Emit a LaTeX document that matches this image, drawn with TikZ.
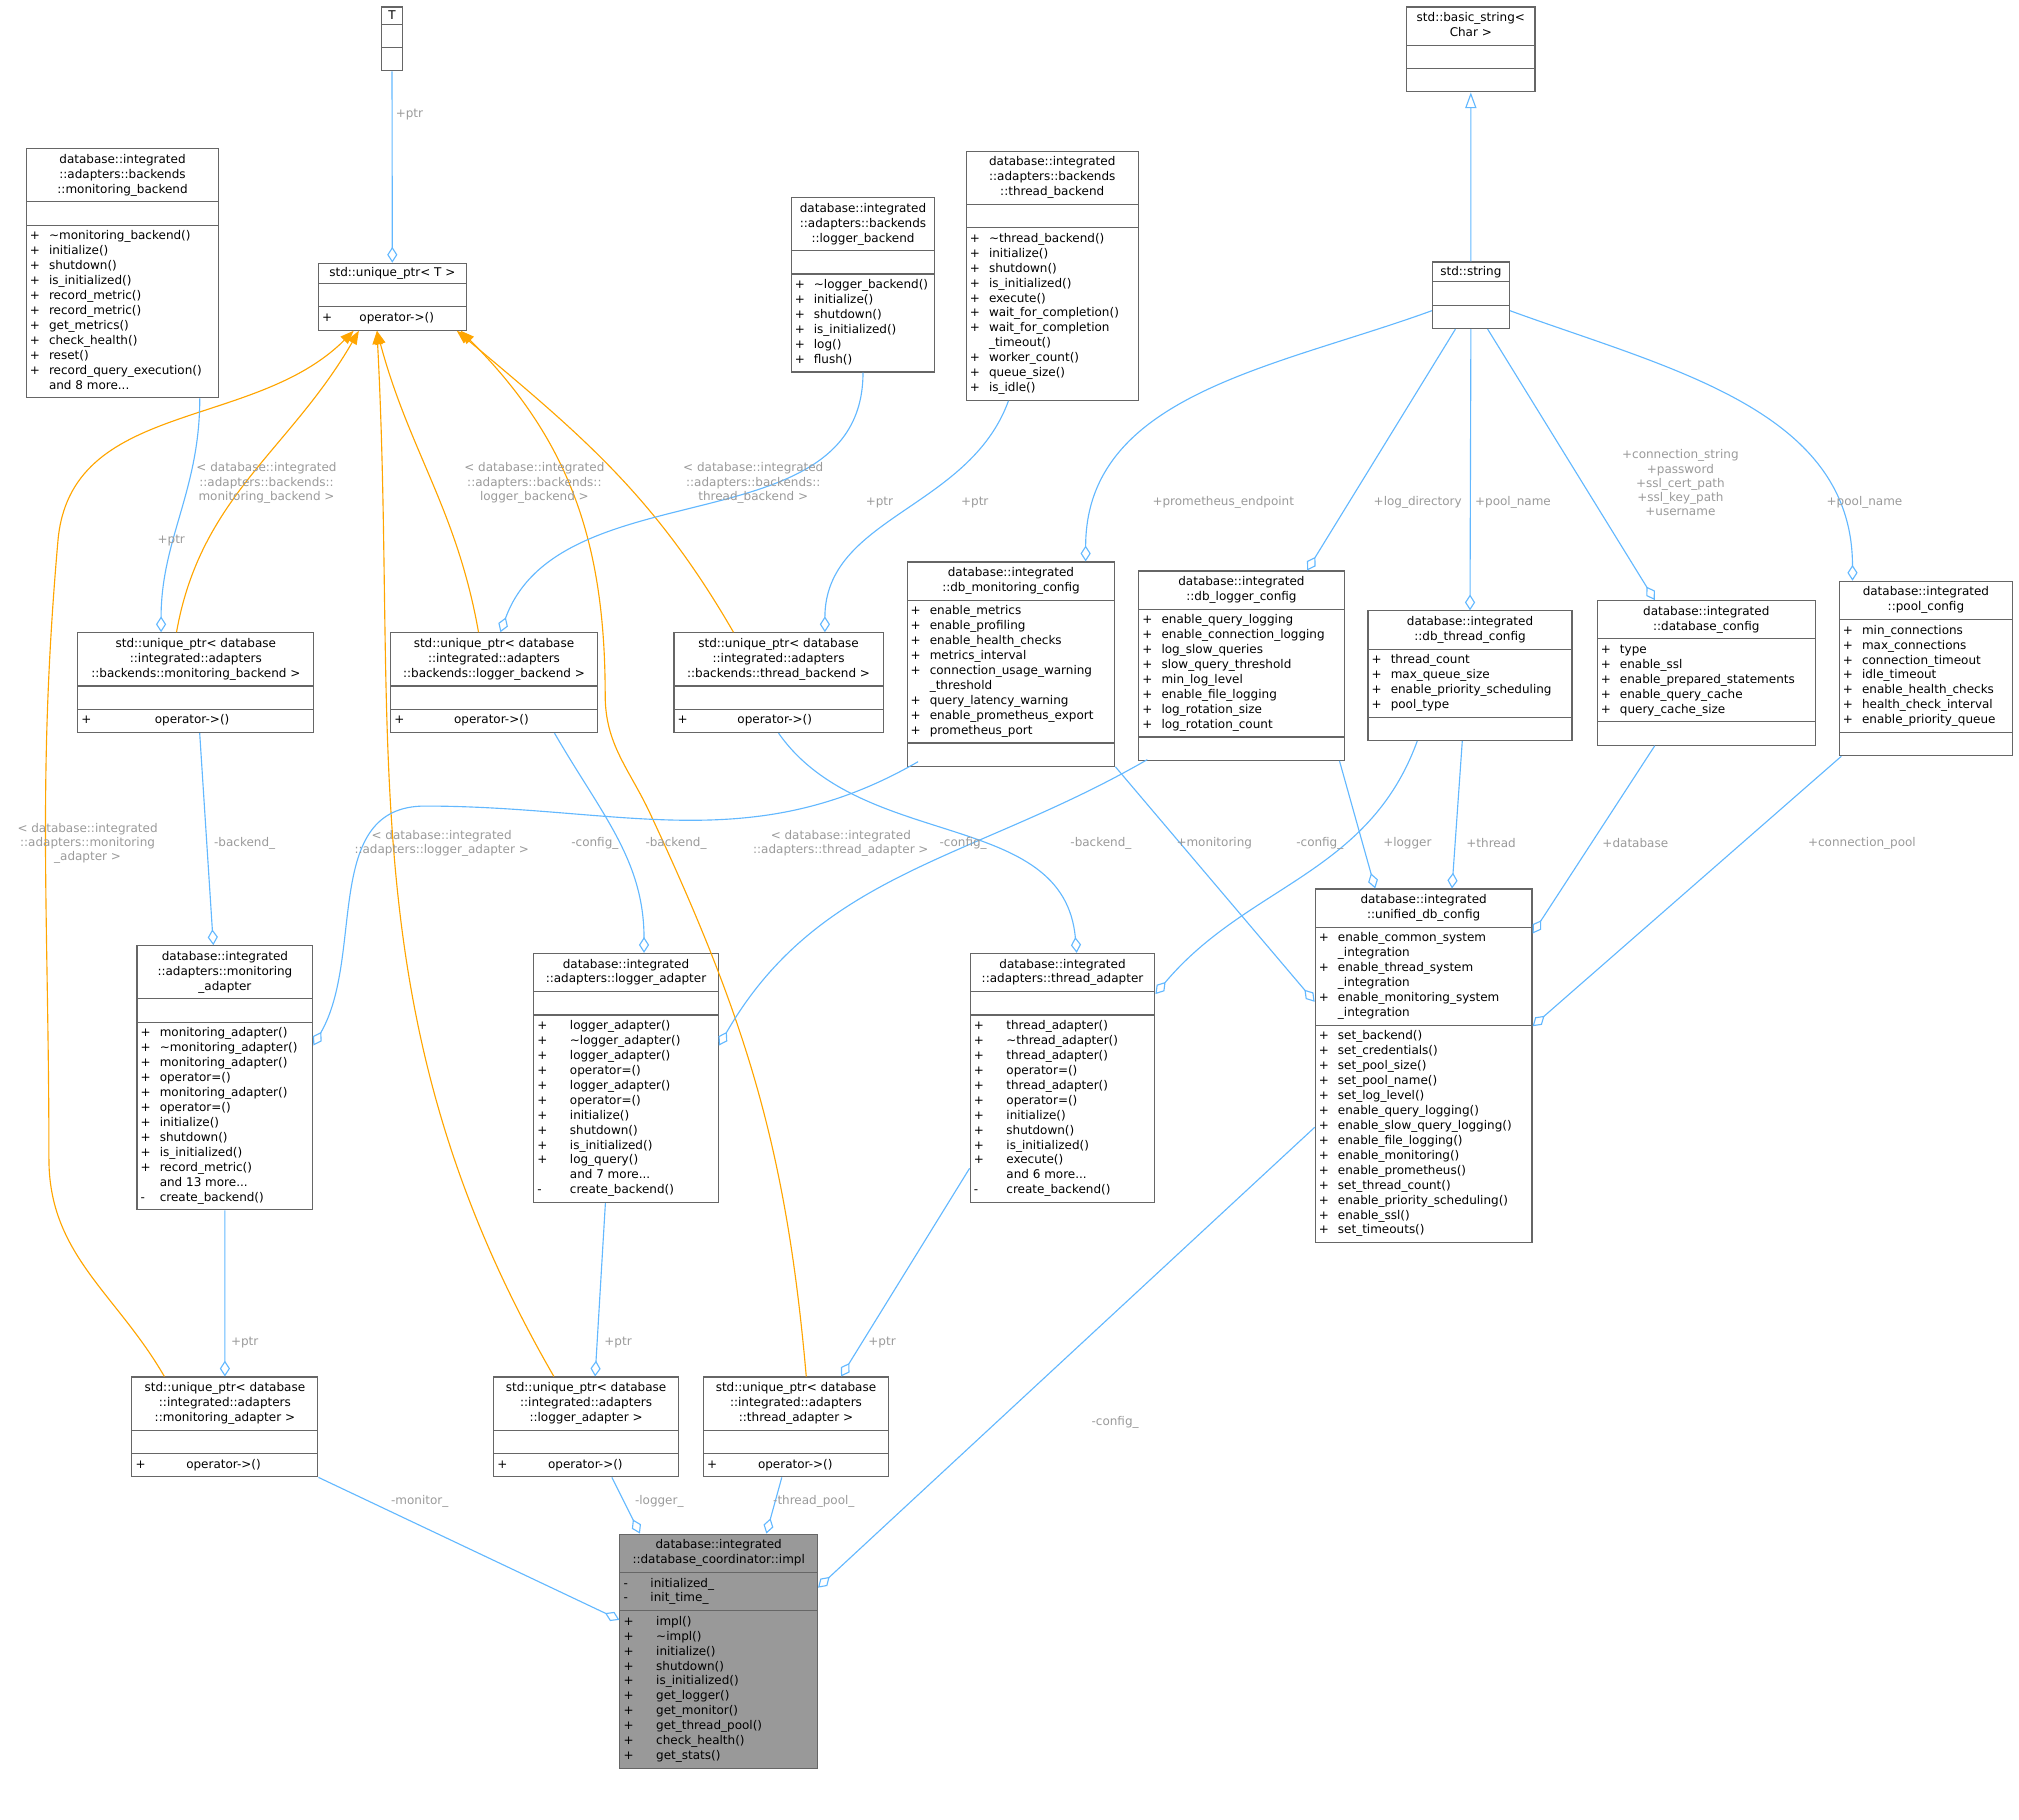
\documentclass[tikz,border=0pt]{standalone}
\usepackage{fontspec}
\setmainfont{DejaVu Sans}
\usetikzlibrary{shapes.multipart,arrows.meta,calc,positioning}

\definecolor{edgeblue}{HTML}{63B8FF}
\definecolor{edgeorange}{HTML}{FFA500}
\definecolor{boxline}{HTML}{666666}
\definecolor{lblgray}{HTML}{9A9A9A}

\newcommand\ttl[1]{\begin{tabular}{@{}c@{}}#1\end{tabular}}
\newcommand\mlist[1]{\begin{tabular}{@{}l@{\hspace{4pt}}l@{}}#1\end{tabular}}
\newcommand\tl{\textasciitilde}

\tikzset{
  cls/.style={rectangle split, rectangle split parts=3, draw=boxline, line width=0.5pt,
    rectangle split part align={center,left,left}, inner sep=1.6pt, anchor=north west,
    font=\fontsize{5.3}{6.6}\selectfont},
  w/.style={minimum width=#1*0.567pt},
  agg/.style={draw=edgeblue, line width=0.5pt, -{Diamond[open,length=7pt,width=4.5pt]}},
  tpl/.style={draw=edgeorange, line width=0.5pt, -{Triangle[length=6pt,width=4.5pt]}},
  inh/.style={draw=edgeblue, line width=0.5pt, -{Triangle[open,length=7pt,width=5pt]}},
  lbl/.style={text=lblgray, font=\fontsize{5.3}{6.3}\selectfont, align=center, inner sep=1pt}
}

\begin{document}
\begin{tikzpicture}[x=0.02cm,y=-0.02cm]
\useasboundingbox (0,0) rectangle (1568,1413);

% classes
\node[cls,w=16] (T) at (296,5) {T\nodepart{second}\strut\nodepart{third}\strut};
\node[cls,w=115] (uptrT) at (247,204) {std::unique\_ptr< T >\nodepart{second}\strut
  \nodepart{third}\mlist{+&\hspace{8pt}operator->()}};
\node[cls,w=150] (mb) at (20,115) {\ttl{database::integrated\\::adapters::backends\\::monitoring\_backend}
  \nodepart{second}\strut
  \nodepart{third}\mlist{+&\tl monitoring\_backend()\\+&initialize()\\+&shutdown()\\+&is\_initialized()\\
  +&record\_metric()\\+&record\_metric()\\+&get\_metrics()\\+&check\_health()\\+&reset()\\
  +&record\_query\_execution()\\&and 8 more...}};
\node[cls,w=112] (lb) at (614,153) {\ttl{database::integrated\\::adapters::backends\\::logger\_backend}
  \nodepart{second}\strut
  \nodepart{third}\mlist{+&\tl logger\_backend()\\+&initialize()\\+&shutdown()\\+&is\_initialized()\\+&log()\\+&flush()}};
\node[cls,w=134] (tb) at (750,117) {\ttl{database::integrated\\::adapters::backends\\::thread\_backend}
  \nodepart{second}\strut
  \nodepart{third}\mlist{+&\tl thread\_backend()\\+&initialize()\\+&shutdown()\\+&is\_initialized()\\+&execute()\\
  +&wait\_for\_completion()\\+&wait\_for\_completion\\&\_timeout()\\+&worker\_count()\\+&queue\_size()\\+&is\_idle()}};
\node[cls,w=100] (bstr) at (1092,5) {\ttl{std::basic\_string<\\Char >}\nodepart{second}\strut\nodepart{third}\strut};
\node[cls,w=60] (str) at (1112,203) {std::string\nodepart{second}\strut\nodepart{third}\strut};

\node[cls,w=184] (upmb) at (60,491) {\ttl{std::unique\_ptr< database\\::integrated::adapters\\::backends::monitoring\_backend >}
  \nodepart{second}\strut\nodepart{third}\mlist{+&\hspace{24pt}operator->()}};
\node[cls,w=161] (uplb) at (303,491) {\ttl{std::unique\_ptr< database\\::integrated::adapters\\::backends::logger\_backend >}
  \nodepart{second}\strut\nodepart{third}\mlist{+&\hspace{18pt}operator->()}};
\node[cls,w=163] (uptb) at (523,491) {\ttl{std::unique\_ptr< database\\::integrated::adapters\\::backends::thread\_backend >}
  \nodepart{second}\strut\nodepart{third}\mlist{+&\hspace{18pt}operator->()}};

\node[cls,w=162] (dbmon) at (704,436) {\ttl{database::integrated\\::db\_monitoring\_config}
  \nodepart{second}\mlist{+&enable\_metrics\\+&enable\_profiling\\+&enable\_health\_checks\\+&metrics\_interval\\
  +&connection\_usage\_warning\\&\_threshold\\+&query\_latency\_warning\\+&enable\_prometheus\_export\\+&prometheus\_port}
  \nodepart{third}\strut};
\node[cls,w=160] (dblog) at (884,443) {\ttl{database::integrated\\::db\_logger\_config}
  \nodepart{second}\mlist{+&enable\_query\_logging\\+&enable\_connection\_logging\\+&log\_slow\_queries\\
  +&slow\_query\_threshold\\+&min\_log\_level\\+&enable\_file\_logging\\+&log\_rotation\_size\\+&log\_rotation\_count}
  \nodepart{third}\strut};
\node[cls,w=159] (dbth) at (1062,474) {\ttl{database::integrated\\::db\_thread\_config}
  \nodepart{second}\mlist{+&thread\_count\\+&max\_queue\_size\\+&enable\_priority\_scheduling\\+&pool\_type}
  \nodepart{third}\strut};
\node[cls,w=170] (dbc) at (1240,466) {\ttl{database::integrated\\::database\_config}
  \nodepart{second}\mlist{+&type\\+&enable\_ssl\\+&enable\_prepared\_statements\\+&enable\_query\_cache\\+&query\_cache\_size}
  \nodepart{third}\strut};
\node[cls,w=135] (pool) at (1428,451) {\ttl{database::integrated\\::pool\_config}
  \nodepart{second}\mlist{+&min\_connections\\+&max\_connections\\+&connection\_timeout\\+&idle\_timeout\\
  +&enable\_health\_checks\\+&health\_check\_interval\\+&enable\_priority\_queue}
  \nodepart{third}\strut};

\node[cls,w=137] (ma) at (106,734) {\ttl{database::integrated\\::adapters::monitoring\\\_adapter}
  \nodepart{second}\strut
  \nodepart{third}\mlist{+&monitoring\_adapter()\\+&\tl monitoring\_adapter()\\+&monitoring\_adapter()\\+&operator=()\\
  +&monitoring\_adapter()\\+&operator=()\\+&initialize()\\+&shutdown()\\+&is\_initialized()\\+&record\_metric()\\
  &and 13 more...\\-&create\_backend()}};
\node[cls,w=144] (la) at (414,740) {\ttl{database::integrated\\::adapters::logger\_adapter}
  \nodepart{second}\strut
  \nodepart{third}\mlist{+&\hspace{6pt}logger\_adapter()\\+&\hspace{6pt}\tl logger\_adapter()\\+&\hspace{6pt}logger\_adapter()\\
  +&\hspace{6pt}operator=()\\+&\hspace{6pt}logger\_adapter()\\+&\hspace{6pt}operator=()\\+&\hspace{6pt}initialize()\\
  +&\hspace{6pt}shutdown()\\+&\hspace{6pt}is\_initialized()\\+&\hspace{6pt}log\_query()\\&\hspace{6pt}and 7 more...\\
  -&\hspace{6pt}create\_backend()}};
\node[cls,w=144] (ta) at (753,740) {\ttl{database::integrated\\::adapters::thread\_adapter}
  \nodepart{second}\strut
  \nodepart{third}\mlist{+&\hspace{6pt}thread\_adapter()\\+&\hspace{6pt}\tl thread\_adapter()\\+&\hspace{6pt}thread\_adapter()\\
  +&\hspace{6pt}operator=()\\+&\hspace{6pt}thread\_adapter()\\+&\hspace{6pt}operator=()\\+&\hspace{6pt}initialize()\\
  +&\hspace{6pt}shutdown()\\+&\hspace{6pt}is\_initialized()\\+&\hspace{6pt}execute()\\&\hspace{6pt}and 6 more...\\
  -&\hspace{6pt}create\_backend()}};
\node[cls,w=169] (uni) at (1021,690) {\ttl{database::integrated\\::unified\_db\_config}
  \nodepart{second}\mlist{+&enable\_common\_system\\&\_integration\\+&enable\_thread\_system\\&\_integration\\
  +&enable\_monitoring\_system\\&\_integration}
  \nodepart{third}\mlist{+&set\_backend()\\+&set\_credentials()\\+&set\_pool\_size()\\+&set\_pool\_name()\\
  +&set\_log\_level()\\+&enable\_query\_logging()\\+&enable\_slow\_query\_logging()\\+&enable\_file\_logging()\\
  +&enable\_monitoring()\\+&enable\_prometheus()\\+&set\_thread\_count()\\+&enable\_priority\_scheduling()\\
  +&enable\_ssl()\\+&set\_timeouts()}};

\node[cls,w=145] (upma) at (102,1069) {\ttl{std::unique\_ptr< database\\::integrated::adapters\\::monitoring\_adapter >}
  \nodepart{second}\strut\nodepart{third}\mlist{+&\hspace{14pt}operator->()}};
\node[cls,w=144] (upla) at (383,1069) {\ttl{std::unique\_ptr< database\\::integrated::adapters\\::logger\_adapter >}
  \nodepart{second}\strut\nodepart{third}\mlist{+&\hspace{14pt}operator->()}};
\node[cls,w=144] (upta) at (546,1069) {\ttl{std::unique\_ptr< database\\::integrated::adapters\\::thread\_adapter >}
  \nodepart{second}\strut\nodepart{third}\mlist{+&\hspace{14pt}operator->()}};

\node[cls,w=154,fill=black!40] (impl) at (481,1191) {\ttl{database::integrated\\::database\_coordinator::impl}
  \nodepart{second}\mlist{-&\hspace{6pt}initialized\_\\-&\hspace{6pt}init\_time\_}
  \nodepart{third}\mlist{+&\hspace{6pt}impl()\\+&\hspace{6pt}\tl impl()\\+&\hspace{6pt}initialize()\\+&\hspace{6pt}shutdown()\\
  +&\hspace{6pt}is\_initialized()\\+&\hspace{6pt}get\_logger()\\+&\hspace{6pt}get\_monitor()\\+&\hspace{6pt}get\_thread\_pool()\\
  +&\hspace{6pt}check\_health()\\+&\hspace{6pt}get\_stats()}};

% template instantiations
\draw[tpl] ($(upmb.north)+(-15,0)$) to[out=80,in=-120] ($(uptrT.south)+(-26,0)$);
\draw[tpl] ($(uplb.north)+(-12,0)$) to[out=100,in=-75] ($(uptrT.south)+(-12,0)$);
\draw[tpl] ($(uptb.north)+(-35,0)$) to[out=120,in=-40] ($(uptrT.south)+(50,0)$);
\draw[tpl] ($(upma.north)+(-47,0)$) to[out=120,in=-90] (38,900) to[out=90,in=-95] (45,420)
  to[out=85,in=-135] ($(uptrT.south)+(-30,0)$);
\draw[tpl] ($(upla.north)+(-25,0)$) to[out=120,in=-87] ($(uptrT.south)+(-12,0)$);
\draw[tpl] ($(upta.north)+(8,0)$) to[out=95,in=-65] (505,632) to[out=115,in=-90] (470,540)
  to[out=90,in=-45] ($(uptrT.south)+(53,0)$);

% members
\draw[agg] (T) -- (uptrT);
\draw[agg] ($(mb.south)+(60,0)$) to[out=-90,in=90] ($(upmb.north)+(-27,0)$);
\draw[agg] (lb.south) to[out=-90,in=70] ($(uplb.north)+(5,0)$);
\draw[agg] ($(tb.south)+(-34,0)$) to[out=-110,in=90] ($(uptb.north)+(36,0)$);
\draw[inh] (str) -- (bstr);
\draw[agg] ($(str.west)+(0,12)$) to[out=-160,in=90] ($(dbmon.north)+(58,0)$);
\draw[agg] ($(str.south)+(-12,0)$) -- ($(dblog.north)+(51,0)$);
\draw[agg] (str.south) -- (dbth.north);
\draw[agg] ($(str.south)+(13,0)$) -- ($(dbc.north)+(-40,0)$);
\draw[agg] ($(str.east)+(0,12)$) to[out=-20,in=90] ($(pool.north)+(-57,0)$);
\draw[agg] ($(upmb.south)+(3,0)$) -- ($(ma.north)+(-9,0)$);
\draw[agg] ($(uplb.south)+(47,0)$) to[out=-60,in=90] ($(la.north)+(14,0)$);
\draw[agg] (uptb.south) to[out=-55,in=95] ($(ta.north)+(11,0)$);
\draw[agg] ($(dbmon.south west)+(9,-4)$) to[out=-150,in=0] (330,626) to[out=180,in=60] ($(ma.north east)+(0,78)$);
\draw[agg] ($(dblog.south west)+(7,-1)$) to[out=-150,in=60] ($(la.north east)+(0,72)$);
\draw[agg] ($(dbth.south)+(-41,0)$) to[out=-110,in=50] ($(ta.north east)+(0,32)$);
\draw[agg] (dbmon.south east) -- ($(uni.north west)+(0,88)$);
\draw[agg] ($(dblog.south east)+(-4,0)$) -- ($(uni.north west)+(47,0)$);
\draw[agg] ($(dbth.south)+(-6,0)$) -- ($(uni.north)+(22,0)$);
\draw[agg] ($(dbc.south)+(-40,0)$) -- ($(uni.north east)+(0,35)$);
\draw[agg] ($(pool.south west)+(2,0)$) -- ($(uni.north east)+(0,107)$);
\draw[agg] (ma.south) -- (upma.north);
\draw[agg] ($(la.south)+(-16,0)$) -- ($(upla.north)+(7,0)$);
\draw[agg] ($(ta.south west)+(0,-27)$) -- ($(upta.north)+(35,0)$);
\draw[agg] (upma.south east) -- ($(impl.north west)+(0,67)$);
\draw[agg] ($(upla.south)+(20,0)$) -- ($(impl.north west)+(16,0)$);
\draw[agg] ($(upta.south)+(-11,0)$) -- ($(impl.north)+(37,0)$);
\draw[agg] ($(uni.south west)+(0,-90)$) -- ($(impl.north east)+(0,42)$);

% labels
\node[lbl] (l1) at (318,89) {+ptr};
\node[lbl] (l2) at (133,420) {+ptr};
\node[lbl] (l3) at (207,375) {< database::integrated\\::adapters::backends::\\monitoring\_backend >};
\node[lbl] (l4) at (415,375) {< database::integrated\\::adapters::backends::\\logger\_backend >};
\node[lbl] (l5) at (585,375) {< database::integrated\\::adapters::backends::\\thread\_backend >};
\node[lbl] (l6) at (683,390) {+ptr};
\node[lbl] (l7) at (757,390) {+ptr};
\node[lbl] (l8) at (950,390) {+prometheus\_endpoint};
\node[lbl] (l9) at (1101,390) {+log\_directory};
\node[lbl] (l10) at (1175,390) {+pool\_name};
\node[lbl] (l11) at (1305,375) {+connection\_string\\+password\\+ssl\_cert\_path\\+ssl\_key\_path\\+username};
\node[lbl] (l12) at (1448,390) {+pool\_name};
\node[lbl] (l13) at (68,655) {< database::integrated\\::adapters::monitoring\\\_adapter >};
\node[lbl] (l14) at (190,655) {-backend\_};
\node[lbl] (l15) at (343,655) {< database::integrated\\::adapters::logger\_adapter >};
\node[lbl] (l16) at (462,655) {-config\_};
\node[lbl] (l17) at (525,655) {-backend\_};
\node[lbl] (l18) at (653,655) {< database::integrated\\::adapters::thread\_adapter >};
\node[lbl] (l19) at (748,655) {-config\_};
\node[lbl] (l20) at (855,655) {-backend\_};
\node[lbl] (l21) at (943,655) {+monitoring};
\node[lbl] (l22) at (1025,655) {-config\_};
\node[lbl] (l23) at (1093,655) {+logger};
\node[lbl] (l24) at (1158,655) {+thread};
\node[lbl] (l25) at (1270,655) {+database};
\node[lbl] (l26) at (1446,655) {+connection\_pool};
\node[lbl] (l27) at (190,1043) {+ptr};
\node[lbl] (l28) at (480,1043) {+ptr};
\node[lbl] (l29) at (685,1043) {+ptr};
\node[lbl] (l30) at (866,1105) {-config\_};
\node[lbl] (l31) at (326,1166) {-monitor\_};
\node[lbl] (l32) at (512,1166) {-logger\_};
\node[lbl] (l33) at (632,1166) {-thread\_pool\_};
\end{tikzpicture}
\end{document}
